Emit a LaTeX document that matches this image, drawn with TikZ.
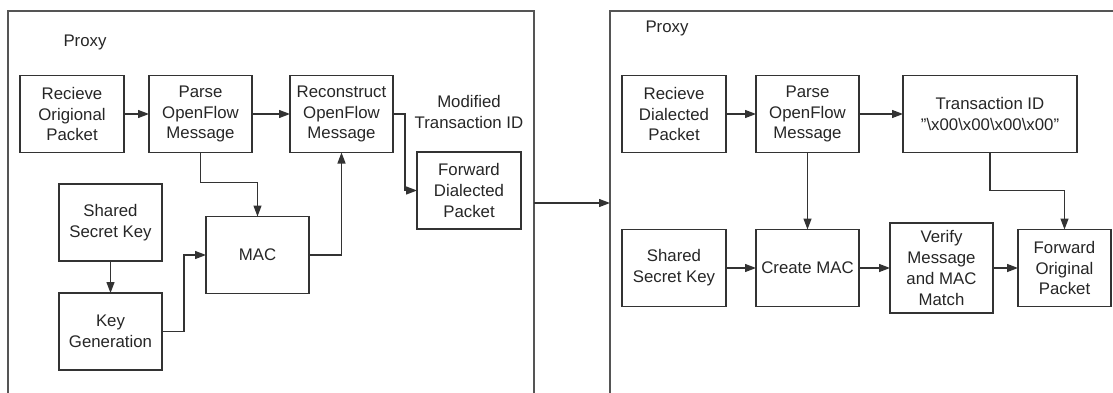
\documentclass[tikz,border=0pt]{standalone}
\usepackage{fontspec}
\setmainfont{Liberation Sans}
\usetikzlibrary{positioning,arrows.meta}

\definecolor{boxline}{HTML}{333333}
\definecolor{frameline}{HTML}{555555}

\begin{document}
\begin{tikzpicture}[x=1pt,y=-1pt,>={Triangle[length=11pt,width=8pt]},color=boxline,
    main node/.style={rectangle,draw=boxline,line width=1.4pt,minimum width=103pt,minimum height=77pt,
        inner sep=0pt,outer sep=0pt,align=center,text=black!85,font=\fontsize{16.8}{20.7}\selectfont},
    label text/.style={text=black!85,font=\fontsize{16.8}{20.7}\selectfont,align=center},
    conn/.style={->,draw=boxline,line width=1.3pt}]
    \useasboundingbox (0,0) rectangle (1113,393);

    % the two proxy frames (open at the bottom)
    \draw[draw=frameline,line width=1.3pt] (8,393) -- (8,11) -- (534,11) -- (534,393);
    \draw[draw=frameline,line width=1.3pt] (610,393) -- (610,11) -- (1113,11);
    \coordinate (out) at (534,203);
    \coordinate (in) at (610,203);
    \node[label text] (proxyA) at (85,42) {Proxy};
    \node[label text] (proxyB) at (667,28) {Proxy};

    % sending side
    \node[main node,minimum width=104pt] (1) at (72,114) {Recieve\\Origional\\Packet};
    \node[main node] (2) [right=25pt of 1] {Parse\\OpenFlow\\Message};
    \node[main node] (3) [right=38pt of 2] {Reconstruct\\OpenFlow\\Message};
    \node[main node] (4) at (110.5,222.5) {Shared\\Secret Key};
    \node[main node] (5) [below=32pt of 4] {Key\\Generation};
    \node[main node] (6) at (257.5,255) {MAC};
    \node[main node,minimum width=104pt] (7) at (469,190.5) {Forward\\Dialected\\Packet};
    \node[label text] (mod) at (469,112) {Modified\\Transaction ID};

    \path[every edge/.style={conn}]
          (1) edge (2)
          (2) edge (3)
          (4) edge (5);
    \draw[conn] (2.south) -- ++(0,30) -| (6.north);
    \draw[conn] (5.east) -- ++(22,0) |- (6.west);
    \draw[conn] (6.east) -| (3.south);
    \draw[conn] (3.east) -- ++(12,0) |- (7.west);

    \draw[conn] (out) -- (in);

    % receiving side
    \node[main node,minimum width=104pt] (8) at (674,114) {Recieve\\Dialected\\Packet};
    \node[main node] (9) [right=30pt of 8] {Parse\\OpenFlow\\Message};
    \node[main node,minimum width=174pt] (10) [right=44pt of 9]
        {Transaction ID\\\symbol{34}\textbackslash x00\textbackslash x00\textbackslash x00\textbackslash x00\symbol{34}};
    \node[main node,minimum width=104pt] (11) at (674,268) {Shared\\Secret Key};
    \node[main node] (12) [right=30pt of 11] {Create MAC};
    \node[main node,minimum height=90pt] (13) [right=31pt of 12] {Verify\\Message\\and MAC\\Match};
    \node[main node,minimum width=93pt] (14) [right=25pt of 13] {Forward\\Original\\Packet};

    \path[every edge/.style={conn}]
          (8) edge (9)
          (9) edge (10)
          (9) edge (12)
          (11) edge (12)
          (12) edge (13)
          (13) edge (14);
    \draw[conn] (10.south) -- ++(0,38) -| (14.north);
\end{tikzpicture}
\end{document}
